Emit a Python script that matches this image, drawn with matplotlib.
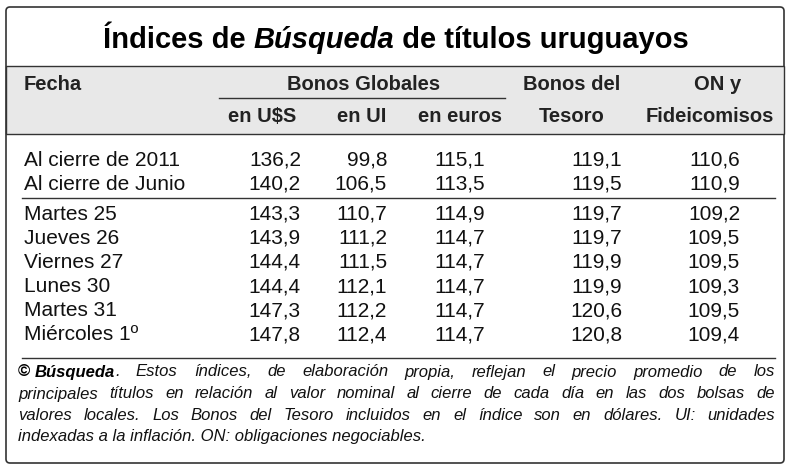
import matplotlib.pyplot as plt
from matplotlib.patches import FancyBboxPatch, Rectangle

plt.rcParams["font.family"] = "Liberation Sans"

fechas = ["Al cierre de 2011", "Al cierre de Junio", "Martes 25", "Jueves 26",
          "Viernes 27", "Lunes 30", "Martes 31", "Miércoles 1º"]
usd = ["136,2", "140,2", "143,3", "143,9", "144,4", "144,4", "147,3", "147,8"]
ui = ["99,8", "106,5", "110,7", "111,2", "111,5", "112,1", "112,2", "112,4"]
euros = ["115,1", "113,5", "114,9", "114,7", "114,7", "114,7", "114,7", "114,7"]
tesoro = ["119,1", "119,5", "119,7", "119,7", "119,9", "119,9", "120,6", "120,8"]
on_fid = ["110,6", "110,9", "109,2", "109,5", "109,5", "109,3", "109,5", "109,4"]

nota_1 = ". Estos índices, de elaboración propia, reflejan el precio promedio de los"
nota = [
    ("principales títulos en relación al valor nominal al cierre de cada día en las dos bolsas de", 394, True),
    ("valores locales. Los Bonos del Tesoro incluidos en el índice son en dólares. UI: unidades", 416, True),
    ("indexadas a la inflación. ON: obligaciones negociables.", 437, False),
]

fig = plt.figure(figsize=(7.9, 4.68), dpi=100)
ax = fig.add_axes([0, 0, 1, 1])
ax.set_xlim(0, 790)
ax.set_ylim(468, 0)
ax.axis("off")
r = fig.canvas.get_renderer()


def right_of(t):
    fig.canvas.draw()
    return ax.transData.inverted().transform((t.get_window_extent(r).x1, 0))[0]


def width_of(t):
    fig.canvas.draw()
    bb = t.get_window_extent(r)
    return bb.x1 - bb.x0


def justify(words, x0, x1, y, **kw):
    ts = [ax.text(0, y, w, **kw) for w in words]
    ws = [width_of(t) for t in ts]
    gap = (x1 - x0 - sum(ws)) / max(len(words) - 1, 1)
    x = x0
    for t, w in zip(ts, ws):
        t.set_x(x)
        x += w + gap


ax.add_patch(FancyBboxPatch((6, 7), 778, 456, boxstyle="round,pad=0,rounding_size=4",
                            fill=False, ec="#333333", lw=1.2))
ax.add_patch(Rectangle((6, 66), 778, 68, fc="#e8e8e8", ec="#333333", lw=1.0))

t1 = ax.text(103, 40, "Índices de ", fontsize=21, weight="bold", ha="left", va="center")
t2 = ax.text(right_of(t1), 40, "Búsqueda", fontsize=21, weight="bold", style="italic",
             ha="left", va="center")
ax.text(right_of(t2), 40, " de títulos uruguayos", fontsize=21, weight="bold",
        ha="left", va="center")

hs = dict(fontsize=14.5, weight="bold", va="center", color="#222222")
ax.text(24, 84, "Fecha", ha="left", **hs)
ax.text(364, 84, "Bonos Globales", ha="center", **hs)
ax.plot([219, 505], [98, 98], color="#333333", lw=1)
ax.text(262, 116, "en U$S", ha="center", **hs)
ax.text(362, 116, "en UI", ha="center", **hs)
ax.text(460, 116, "en euros", ha="center", **hs)
ax.text(572, 84, "Bonos del", ha="center", **hs)
ax.text(572, 116, "Tesoro", ha="center", **hs)
ax.text(718, 84, "ON y", ha="center", **hs)
ax.text(710, 116, "Fideicomisos", ha="center", **hs)

ys = [160, 184, 214, 238, 262, 287, 311, 335]
bs = dict(fontsize=15, va="center", color="#111111")
for i, y in enumerate(ys):
    ax.text(24, y, fechas[i], ha="left", **bs)
    ax.text(301, y, usd[i], ha="right", **bs)
    ax.text(387, y, ui[i], ha="right", **bs)
    ax.text(485, y, euros[i], ha="right", **bs)
    ax.text(622, y, tesoro[i], ha="right", **bs)
    ax.text(740, y, on_fid[i], ha="right", **bs)

ax.plot([22, 775], [198, 198], color="#333333", lw=1)
ax.plot([22, 775], [358, 358], color="#333333", lw=1)

ns = dict(fontsize=12, style="italic", va="center", ha="left", color="#111111")
a = ax.text(18, 372, "© ", fontsize=12, weight="bold", va="center", ha="left")
b = ax.text(right_of(a), 372, "Búsqueda", fontsize=12, weight="bold", style="italic",
            va="center", ha="left")
xb = right_of(b)
w1 = nota_1.split(" ")
justify([w1[0]] + w1[1:], xb, 775, 372, **ns)
for line, y, just in nota:
    if just:
        justify(line.split(" "), 18, 775, y, **ns)
    else:
        ax.text(18, y, line, **ns)

fig.savefig("out.png", dpi=100)
